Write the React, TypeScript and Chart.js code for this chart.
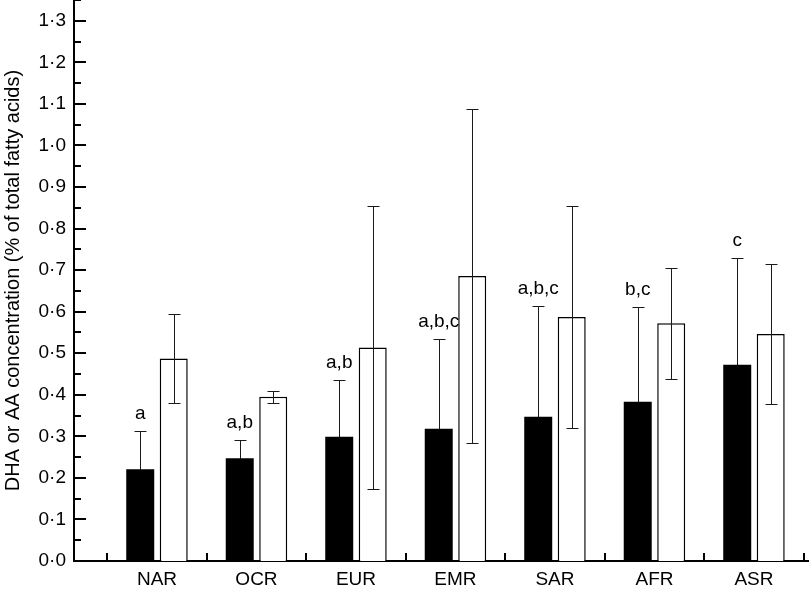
import React, { useEffect, useRef } from 'react';
import { Chart, registerables } from 'chart.js';

Chart.register(...registerables);

const categories = ['NAR', 'OCR', 'EUR', 'EMR', 'SAR', 'AFR', 'ASR'];
const dhaMeans = [0.221, 0.247, 0.299, 0.318, 0.347, 0.383, 0.472];
const dhaSD = [0.092, 0.043, 0.137, 0.216, 0.266, 0.228, 0.257];
const aaMeans = [0.487, 0.395, 0.514, 0.686, 0.587, 0.572, 0.546];
const aaSD = [0.107, 0.014, 0.341, 0.402, 0.268, 0.133, 0.168];
const dhaLetters = ['a', 'a,b', 'a,b', 'a,b,c', 'a,b,c', 'b,c', 'c'];
const yTitle = 'DHA or AA concentration (% of total fatty acids)';
const yMin = 0;
const yMax = 1.35;
const yStep = 0.05;

const FONT = "'Liberation Sans', Arial, Helvetica, sans-serif";

const isMajor = (v: number) => Math.abs(v * 10 - Math.round(v * 10)) < 1e-6;
const fmt = (v: number) => (Math.round(v * 10) / 10).toFixed(1).replace('.', '\u00B7');

function drawErrors(chart: any, di: number) {
  const ctx = chart.ctx;
  const ys = chart.scales.y;
  const ds = chart.data.datasets[di];
  const meta = chart.getDatasetMeta(di);
  ctx.save();
  ctx.strokeStyle = '#1a1a1a';
  ctx.lineWidth = 1;
  meta.data.forEach((bar: any, i: number) => {
    const v = ds.data[i].y;
    const e = ds.errors[i];
    const x = Math.round(bar.x) + 0.5;
    const yt = Math.round(ys.getPixelForValue(v + e)) + 0.5;
    const yb = Math.round(ys.getPixelForValue(v - e)) + 0.5;
    ctx.beginPath();
    ctx.moveTo(x, yt);
    ctx.lineTo(x, yb);
    ctx.moveTo(x - 6, yt);
    ctx.lineTo(x + 6, yt);
    ctx.moveTo(x - 6, yb);
    ctx.lineTo(x + 6, yb);
    ctx.stroke();
  });
  ctx.restore();
}

const overlayPlugin = {
  id: 'overlay',
  beforeDatasetsDraw(chart: any) {
    drawErrors(chart, 0);
  },
  afterDatasetsDraw(chart: any) {
    const ctx = chart.ctx;
    const xs = chart.scales.x;
    const ys = chart.scales.y;
    const area = chart.chartArea;
    drawErrors(chart, 1);
    ctx.save();
    ctx.strokeStyle = '#000';
    ctx.lineWidth = 2;
    ys.ticks.forEach((t: any) => {
      const len = isMajor(t.value) ? 12 : 7;
      const py = Math.round(ys.getPixelForValue(t.value));
      ctx.beginPath();
      ctx.moveTo(area.left, py);
      ctx.lineTo(area.left + len, py);
      ctx.stroke();
    });
    for (let i = 0; i <= categories.length; i++) {
      const px = Math.round(xs.getPixelForValue(i - 0.5));
      ctx.beginPath();
      ctx.moveTo(px, area.bottom);
      ctx.lineTo(px, area.bottom - 8);
      ctx.stroke();
    }
    const meta0 = chart.getDatasetMeta(0);
    ctx.fillStyle = '#000';
    ctx.font = `19px ${FONT}`;
    ctx.textAlign = 'center';
    ctx.textBaseline = 'alphabetic';
    meta0.data.forEach((bar: any, i: number) => {
      const yt = ys.getPixelForValue(dhaMeans[i] + dhaSD[i]);
      ctx.fillText(dhaLetters[i], bar.x, yt - 12);
    });
    ctx.restore();
  },
};

export default function App() {
  const ref = useRef<HTMLCanvasElement | null>(null);

  useEffect(() => {
    if (!ref.current) return;
    const chart = new Chart(ref.current, {
      type: 'bar',
      data: {
        datasets: [
          {
            label: 'DHA',
            data: dhaMeans.map((v, i) => ({ x: i, y: v })),
            errors: dhaSD,
            backgroundColor: '#000',
            borderWidth: 0,
          } as any,
          {
            label: 'AA',
            data: aaMeans.map((v, i) => ({ x: i, y: v })),
            errors: aaSD,
            backgroundColor: '#fff',
            borderColor: '#000',
            borderWidth: 1.5,
          } as any,
        ],
      },
      options: {
        responsive: false,
        animation: false,
        devicePixelRatio: 1,
        layout: { padding: { top: 0, right: 2, left: 0, bottom: 0 } },
        datasets: {
          bar: { categoryPercentage: 0.673, barPercentage: 0.836 },
        },
        plugins: {
          legend: { display: false },
          tooltip: { enabled: false },
        },
        scales: {
          x: {
            type: 'linear',
            min: -0.834,
            max: 6.543,
            offset: false,
            grid: { display: false, drawTicks: false },
            border: { display: true, color: '#000', width: 2 },
            afterBuildTicks: (scale: any) => {
              scale.ticks = categories.map((_, i) => ({ value: i }));
            },
            afterFit: (scale: any) => {
              scale.height = 30;
              scale.paddingLeft = 0;
              scale.paddingRight = 0;
            },
            ticks: {
              autoSkip: false,
              maxRotation: 0,
              padding: 7,
              color: '#000',
              font: { size: 19, family: FONT },
              callback: (v: any) => categories[v] ?? '',
            },
          },
          y: {
            type: 'linear',
            min: yMin,
            max: yMax,
            grid: { display: false, drawTicks: false },
            border: { display: true, color: '#000', width: 2 },
            afterFit: (scale: any) => {
              scale.width = 74;
              scale.paddingTop = 0;
              scale.paddingBottom = 0;
            },
            ticks: {
              stepSize: yStep,
              includeBounds: false,
              autoSkip: false,
              padding: 8,
              color: '#000',
              font: { size: 19, family: FONT },
              callback: (v: any) => (isMajor(v) ? fmt(v) : ''),
            },
            title: {
              display: true,
              text: yTitle,
              color: '#000',
              font: { size: 20, family: FONT },
              padding: { top: 1, bottom: 0 },
            },
          },
        },
      } as any,
      plugins: [overlayPlugin],
    });
    return () => chart.destroy();
  }, []);

  return (
    <div style={{ position: 'absolute', left: 0, top: 0, width: 810, height: 591, background: '#fff' }}>
      <canvas ref={ref} width={810} height={591} style={{ display: 'block' }} />
    </div>
  );
}
